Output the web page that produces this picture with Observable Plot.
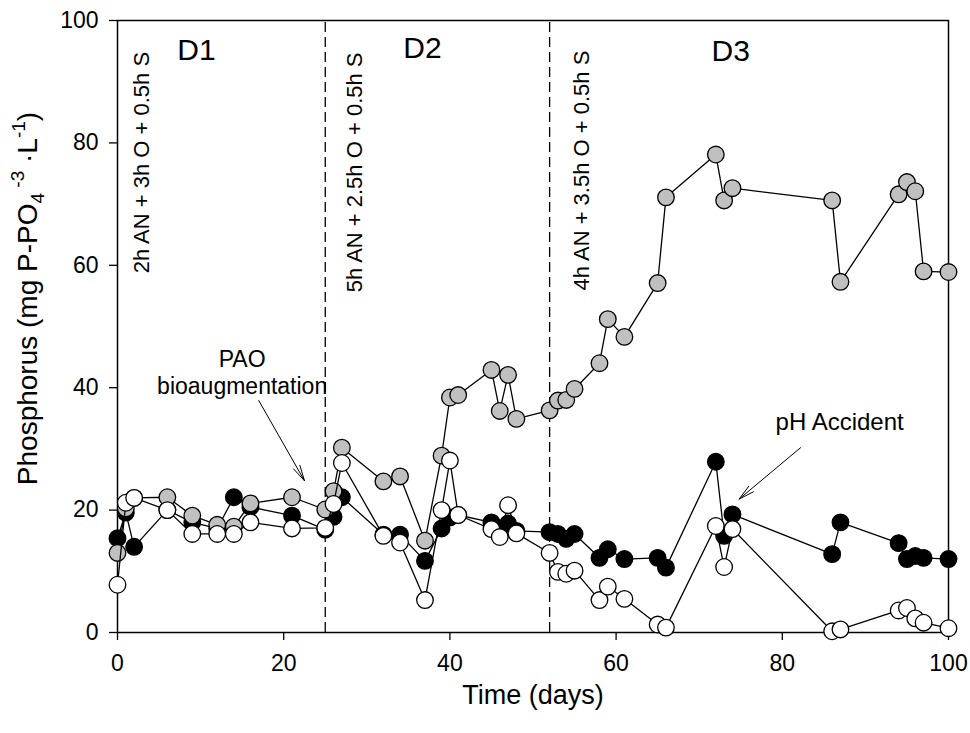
<!DOCTYPE html>
<html>
<head>
<meta charset="utf-8">
<script src="https://cdn.jsdelivr.net/npm/d3@7"></script>
<script src="https://cdn.jsdelivr.net/npm/@observablehq/plot@0.6"></script>
<style>
  body { margin: 0; background: #fff; }
</style>
</head>
<body>
<div id="chart"></div>
<script>
// Sampling days and phosphorus concentrations (mg P-PO4 per L) for the three series
const grayDays = [0, 1, 2, 6, 9, 12, 14, 16, 21, 25, 26, 27, 32, 34, 37, 39, 40, 41, 45, 46, 47, 48,
  52, 53, 54, 55, 58, 59, 61, 65, 66, 72, 73, 74, 86, 87, 94, 95, 96, 97, 100];
const grayValues = [13.0, 20.3, 22.0, 22.1, 19.1, 17.6, 17.3, 21.1, 22.1, 20.1, 23.1, 30.2, 24.7, 25.5, 15.0, 28.9, 38.4, 38.8, 42.9, 36.2, 42.1, 34.9,
  36.3, 37.9, 38.0, 39.8, 44.0, 51.2, 48.3, 57.1, 71.1, 78.1, 70.6, 72.6, 70.6, 57.3, 71.6, 73.6, 72.1, 59.0, 58.9];

const blackDays = [0, 1, 2, 6, 9, 12, 14, 16, 21, 25, 26, 27, 32, 34, 37, 39, 40, 41, 45, 47, 48,
  52, 53, 54, 55, 58, 59, 61, 65, 66, 72, 73, 74, 86, 87, 94, 95, 96, 97, 100];
const blackValues = [15.4, 19.6, 14.0, 20.0, 18.0, 17.0, 22.1, 20.5, 19.1, 16.8, 18.9, 22.1, 16.0, 16.0, 11.7, 17.0, 18.8, 19.2, 18.0, 17.8, 16.6,
  16.4, 16.1, 15.3, 16.1, 12.2, 13.6, 12.0, 12.2, 10.6, 27.9, 15.8, 19.3, 12.8, 18.0, 14.6, 12.0, 12.5, 12.2, 12.0];

const whiteDays = [0, 1, 2, 6, 9, 12, 14, 16, 21, 25, 26, 27, 32, 34, 37, 39, 40, 41, 45, 46, 47, 48,
  52, 53, 54, 55, 58, 59, 61, 65, 66, 72, 73, 74, 86, 87, 94, 95, 96, 97, 100];
const whiteValues = [7.8, 21.2, 22.0, 20.0, 16.1, 16.1, 16.1, 18.0, 17.0, 17.1, 21.0, 27.7, 15.8, 14.7, 5.3, 20.0, 28.1, 19.2, 16.9, 15.6, 20.8, 16.2,
  13.0, 9.9, 9.6, 10.1, 5.3, 7.5, 5.5, 1.3, 0.8, 17.4, 10.7, 16.9, 0.2, 0.5, 3.6, 4.0, 2.3, 1.6, 0.7];

// Operating phases and cycle configurations
const phaseBoundaries = [25, 52];
const phaseNames = ["D1", "D2", "D3"];
const cycleLabels = ["2h AN + 3h O + 0.5h S", "5h AN + 2.5h O + 0.5h S", "4h AN + 3.5h O + 0.5h S"];

const xTicks = [0, 20, 40, 60, 80, 100];
const yTicks = [0, 20, 40, 60, 80, 100];

const xLabel = "Time (days)";
const yLabelPlain = "Phosphorus (mg P-PO4-3 ·L-1)";

// Annotation placement (data units)
const phaseNameAnchors = [
  {x: 9.5, y: 95.1}, {x: 36.7, y: 95.5}, {x: 73.8, y: 95.0}
];
const cycleLabelAnchors = [
  {x: 2.9, y: 58.7}, {x: 28.55, y: 55.6}, {x: 55.85, y: 55.9}
];
const notes = [
  {x: 15.0, y: 42.6, text: "PAO\nbioaugmentation", size: 23},
  {x: 86.9, y: 34.6, text: "pH Accident", size: 24}
];
const arrows = [
  {x1: 17.0, y1: 37.9, x2: 22.5, y2: 24.8},
  {x1: 82.2, y1: 30.2, x2: 74.8, y2: 21.8}
];

const toRows = (days, values) => days.map((d, i) => ({day: d, p: values[i]}));
const series = [
  {rows: toRows(blackDays, blackValues), fill: "#000000"},
  {rows: toRows(grayDays, grayValues), fill: "#c0c0c0"},
  {rows: toRows(whiteDays, whiteValues), fill: "#ffffff"}
];

const seriesMarks = series.flatMap(s => [
  Plot.line(s.rows, {x: "day", y: "p", stroke: "black", strokeWidth: 1.3}),
  Plot.dot(s.rows, {x: "day", y: "p", r: 8.3, fill: s.fill, stroke: "black", strokeWidth: 1.3})
]);

const chart = Plot.plot({
  width: 970,
  height: 733,
  marginLeft: 117,
  marginRight: 22,
  marginTop: 20,
  marginBottom: 101,
  style: {fontFamily: "'Liberation Sans', Arial, sans-serif", fontSize: "23px", color: "black", background: "white"},
  x: {domain: [0, 100], ticks: xTicks, tickSize: 8, tickPadding: 14, label: null},
  y: {domain: [0, 100], ticks: yTicks, tickSize: 8, tickPadding: 11, label: null},
  marks: [
    Plot.ruleX(phaseBoundaries, {x: d => d, y1: 0, y2: 100, stroke: "black", strokeWidth: 1.3, strokeDasharray: "10,5"}),
    Plot.frame({stroke: "black", strokeWidth: 1.5}),
    Plot.axisX({ticks: xTicks, tickSize: 8, tickPadding: 14, fontSize: 23, label: null, strokeWidth: 1.3}),
    Plot.axisY({ticks: yTicks, tickSize: 8, tickPadding: 11, fontSize: 23, label: null, strokeWidth: 1.3}),
    ...seriesMarks,
    Plot.text(phaseNames, {x: (d, i) => phaseNameAnchors[i].x, y: (d, i) => phaseNameAnchors[i].y, text: d => d, fontSize: 30}),
    Plot.text(cycleLabels, {x: (d, i) => cycleLabelAnchors[i].x, y: (d, i) => cycleLabelAnchors[i].y, text: d => d,
      rotate: -90, textAnchor: "start", fontSize: 22}),
    Plot.text(notes, {x: "x", y: "y", text: "text", fontSize: d => d.size, lineHeight: 1.2}),
    Plot.arrow(arrows, {x1: "x1", y1: "y1", x2: "x2", y2: "y2", stroke: "black", strokeWidth: 1, headLength: 24, headAngle: 26}),
    Plot.text([xLabel], {frameAnchor: "bottom", dy: 71, text: d => d, fontSize: 27}),
    Plot.text([yLabelPlain], {frameAnchor: "left", textAnchor: "middle", dx: -89, dy: -28, rotate: -90, text: d => d, fontSize: 28})
  ]
});

// Rebuild the y-axis title with a subscript and superscripts
d3.select(chart).selectAll("text")
  .filter(function() { return this.textContent === yLabelPlain; })
  .each(function() {
    const t = d3.select(this);
    t.text(null);
    t.append("tspan").text("Phosphorus (mg P-PO");
    t.append("tspan").attr("dy", 7).attr("font-size", 19).text("4");
    t.append("tspan").attr("dy", -20).attr("font-size", 19).text(" -3");
    t.append("tspan").attr("dy", 13).text(" ·L");
    t.append("tspan").attr("dy", -12).attr("font-size", 19).text("-1");
    t.append("tspan").attr("dy", 12).text(")");
  });

document.getElementById("chart").append(chart);
</script>
</body>
</html>
